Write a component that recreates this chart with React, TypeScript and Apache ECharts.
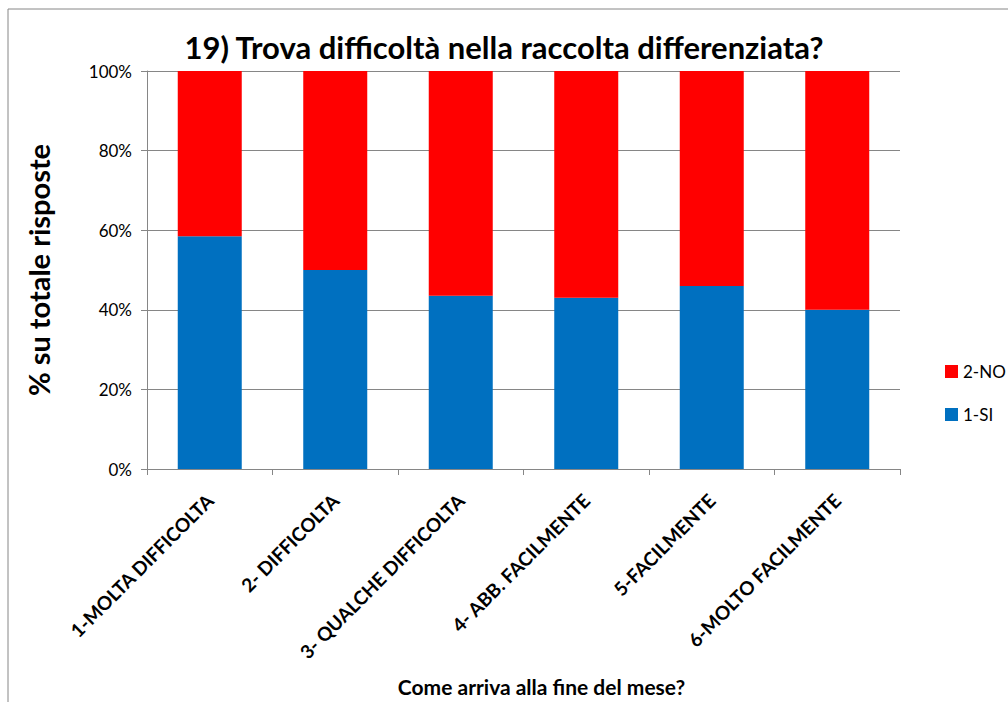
import React, { useEffect, useRef } from "react";
import * as echarts from "echarts";

const categories = [
  "1-MOLTA DIFFICOLTA",
  "2- DIFFICOLTA",
  "3- QUALCHE DIFFICOLTA",
  "4- ABB. FACILMENTE",
  "5-FACILMENTE",
  "6-MOLTO FACILMENTE",
];
const siValues = [58.5, 50, 43.5, 43, 46, 40];
const noValues = [41.5, 50, 56.5, 57, 54, 60];
const yTicks = [0, 20, 40, 60, 80, 100];

const FONT = "Lato, 'Open Sans', sans-serif";

export default function App() {
  const ref = useRef<HTMLDivElement>(null);
  useEffect(() => {
    document.body.style.margin = "0";
    const chart = echarts.init(ref.current!, null, { renderer: "svg" });
    chart.setOption({
      animation: false,
      backgroundColor: "#ffffff",
      textStyle: { fontFamily: FONT },
      title: {
        text: "19) Trova difficoltà nella raccolta differenziata?",
        left: "center",
        top: 26,
        textStyle: { fontSize: 31, fontWeight: "bold", color: "#000", fontFamily: FONT },
      },
      graphic: [
        {
          type: "rect",
          shape: { x: 8, y: 9, width: 1020, height: 720 },
          style: { fill: "none", stroke: "#868686", lineWidth: 1 },
          silent: true,
        },
      ],
      legend: {
        orient: "vertical",
        left: 940,
        top: 358,
        itemWidth: 13,
        itemHeight: 13,
        itemGap: 26,
        icon: "rect",
        data: ["2-NO", "1-SI"],
        textStyle: { fontSize: 17, color: "#000", fontFamily: FONT },
      },
      grid: { left: 147, right: 108, top: 71, bottom: 222 },
      xAxis: {
        type: "category",
        data: categories,
        name: "Come arriva alla fine del mese?",
        nameLocation: "middle",
        nameGap: 207,
        nameTextStyle: {
          fontSize: 21,
          fontWeight: "bold",
          color: "#000",
          fontFamily: FONT,
          padding: [0, 0, 0, 36],
        },
        axisLine: { lineStyle: { color: "#868686" } },
        axisTick: { show: true, length: 6, lineStyle: { color: "#868686" } },
        axisLabel: {
          rotate: 45,
          interval: 0,
          fontSize: 19,
          fontWeight: "bold",
          color: "#000",
          margin: 28,
          fontFamily: FONT,
        },
      },
      yAxis: {
        type: "value",
        min: yTicks[0],
        max: yTicks[yTicks.length - 1],
        interval: 20,
        name: "% su totale risposte",
        nameLocation: "middle",
        nameGap: 94,
        nameRotate: 90,
        nameTextStyle: { fontSize: 29, fontWeight: "bold", color: "#000", fontFamily: FONT },
        axisLine: { show: true, lineStyle: { color: "#868686" } },
        axisTick: { show: true, length: 6, lineStyle: { color: "#868686" } },
        axisLabel: {
          formatter: "{value}%",
          fontSize: 17,
          color: "#000",
          margin: 15,
          fontFamily: FONT,
        },
        splitLine: { lineStyle: { color: "#868686" } },
      },
      series: [
        {
          name: "1-SI",
          type: "bar",
          stack: "total",
          barWidth: "51%",
          data: siValues,
          itemStyle: { color: "#0070C0" },
        },
        {
          name: "2-NO",
          type: "bar",
          stack: "total",
          barWidth: "51%",
          data: noValues,
          itemStyle: { color: "#FF0000" },
        },
      ],
    });
    return () => chart.dispose();
  }, []);
  return <div ref={ref} style={{ width: 1008, height: 702 }} />;
}
